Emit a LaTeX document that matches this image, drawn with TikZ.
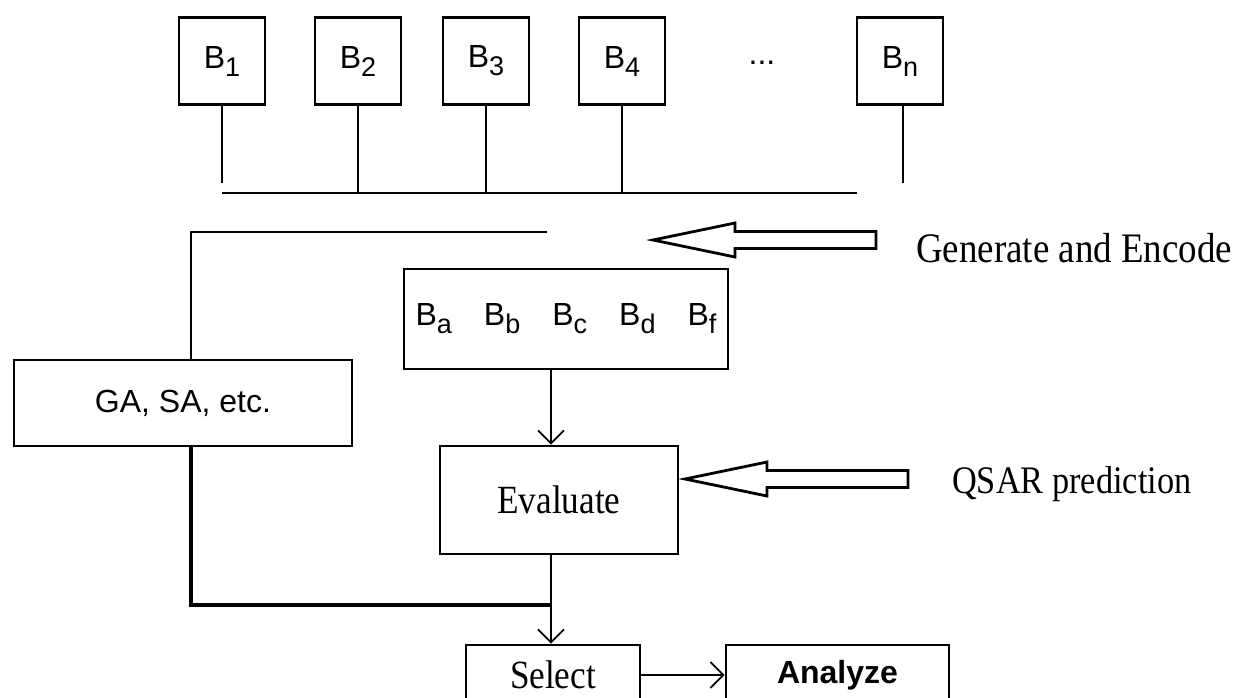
\documentclass[tikz,border=0pt]{standalone}
\usepackage{fontspec}
\setmainfont{Liberation Serif}[FakeStretch=0.88]
\setsansfont{Liberation Sans}
\usetikzlibrary{arrows.meta}
\newcommand{\bw}{86pt}
\newcommand{\bh}{87pt}
\newcommand{\indice}[1]{\raisebox{-8pt}{\fontsize{27}{27}\selectfont #1}}
\tikzstyle{fil}=[line width=1.7pt]
\tikzstyle{bord}=[line width=2.8pt, join=miter]
\tikzstyle{cadre}=[draw, bord, inner sep=0, font=\sffamily\fontsize{32}{32}\selectfont]
\tikzstyle{bloc}=[cadre, minimum width=\bw, minimum height=\bh]
\tikzstyle{cadreserif}=[draw, bord, inner sep=0, font=\fontsize{40}{40}\selectfont]
\tikzstyle{texte}=[inner sep=0, anchor=base west]
\tikzstyle{fleche}=[fil, -{Straight Barb[length=13pt, width=26pt]}]
\newcommand{\grossefleche}[1]{
  \draw[bord] #1 -- ++(82,-17) -- ++(0,8.5) -- ++(141,0) -- ++(0,17)
    -- ++(-141,0) -- ++(0,8.5) -- cycle;
}
\begin{document}
\begin{tikzpicture}[x=1pt,y=-1pt]
\clip (0,0) rectangle (1234,697);
\fill[white] (0,0) rectangle (1234,697);

%blocs
\foreach \I/\X in {1/222,2/358,3/486,4/622,n/900}
  \node[bloc] (B\I) at (\X,61) {B\indice{\I}};
\node[inner sep=0, font=\sffamily\fontsize{32}{32}\selectfont] (dots) at (762,63) {...};

%bus
\coordinate (busG) at (222,193);
\coordinate (busD) at (857,193);
\coordinate (stub) at (0,183);
\draw[fil] (busG) -- (busD);
\draw[fil] (B1.south) -- (B1.south |- stub);
\draw[fil] ([xshift=3pt]Bn.south) -- ([xshift=3pt]Bn.south |- stub);
\foreach \I in {2,3,4}
  \draw[fil] (B\I.south) -- (B\I.south |- busG);

%boucle
\coordinate (hautG) at (191,232);
\coordinate (hautD) at (547,232);
\coordinate (flux) at (551,605);
\node[cadre, minimum width=338pt, minimum height=86pt] (algo) at (183,403) {GA, SA, etc.};
\draw[fil, line width=2.2pt] (hautD) -- (hautG) -- (hautG |- algo.north);

\node[cadre, minimum width=324pt, minimum height=100pt] (pool) at (566,319)
  {B\indice{a}\hspace{32pt}B\indice{b}\hspace{32pt}B\indice{c}\hspace{32pt}B\indice{d}\hspace{32pt}B\indice{f}};
\node[cadreserif, minimum width=238pt, minimum height=108pt] (eval) at (559,500) {Evaluate};
\node[cadreserif, minimum width=174pt, minimum height=60pt] (select) at (553,675) {Select};
\node[cadre, font=\sffamily\bfseries\fontsize{32}{32}\selectfont, minimum width=223pt, minimum height=60pt] (analyze) at (837.5,675) {Analyze};

\draw[fleche] (pool.south -| flux) -- (eval.north -| flux);
\draw[fil, line width=3.2pt] (algo.south -| hautG) -- (hautG |- flux) -- (flux);
\draw[fleche] (eval.south -| flux) -- (select.north -| flux);
\draw[fleche] (select) -- (analyze);

%grosses fleches
\coordinate (pointeG) at (653,240);
\coordinate (pointeQ) at (685,479);
\grossefleche{(pointeG)}
\grossefleche{(pointeQ)}
\node[texte, font=\fontsize{42}{42}\selectfont] (gen) at (916,262) {Generate and Encode};
\node[texte, font=\fontsize{39}{39}\selectfont] (qsar) at (952,493) {QSAR prediction};
\end{tikzpicture}
\end{document}
